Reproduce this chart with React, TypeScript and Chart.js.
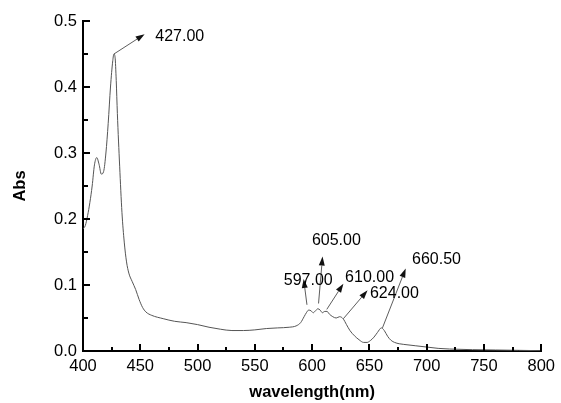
import React, { useEffect, useRef } from "react";
import { Chart, registerables } from "chart.js";

Chart.register(...registerables);

// Spectrum data (wavelength in nm, absorbance)
const wavelengths = [
  400, 402, 404, 406, 408, 410, 412, 414, 416, 418, 420, 422, 424, 426, 427, 428, 429, 430, 432, 434,
  436, 438, 440, 443, 446, 449, 452, 455, 460, 470, 480, 490, 500, 510, 520, 530, 540, 550, 560, 570,
  580, 586, 590, 593, 595, 597, 599, 601, 603, 605, 607, 609, 611, 613, 615, 618, 621, 624, 627, 630,
  633, 637, 641, 645, 648, 651, 654, 657, 660.5, 663, 666, 669, 672, 676, 680, 690, 700, 710, 720, 740,
  760, 780, 800,
];
const absorbance = [
  0.185, 0.19, 0.205, 0.225, 0.25, 0.282, 0.293, 0.283, 0.268, 0.272, 0.3, 0.345, 0.4, 0.44, 0.45, 0.445, 0.41, 0.36, 0.28, 0.21,
  0.165, 0.135, 0.118, 0.105, 0.093, 0.078, 0.066, 0.059, 0.054, 0.049, 0.045, 0.043, 0.04, 0.036, 0.033, 0.031, 0.031, 0.032, 0.034, 0.035,
  0.036, 0.038, 0.043, 0.052, 0.058, 0.062, 0.061, 0.058, 0.061, 0.064, 0.062, 0.058, 0.06, 0.06, 0.056, 0.052, 0.05, 0.052, 0.049, 0.04,
  0.031, 0.023, 0.017, 0.013, 0.013, 0.016, 0.021, 0.028, 0.035, 0.031, 0.022, 0.016, 0.013, 0.011, 0.01, 0.008, 0.006, 0.004, 0.003, 0.002,
  0.0015, 0.001, 0.0005,
];

// Peak annotations
const peakLabels = ["427.00", "597.00", "605.00", "610.00", "624.00", "660.50"];
// arrow tail (on the curve), in data units
const tailX = [427, 595.5, 605.6, 612.8, 627.3, 661.4];
const tailY = [0.45, 0.07, 0.072, 0.063, 0.049, 0.035];
// arrow head, in data units
const tipX = [453.8, 592.6, 609.1, 627.3, 648.4, 681.7];
const tipY = [0.48, 0.109, 0.143, 0.102, 0.092, 0.125];
// label anchor (left, middle), in data units
const labelX = [463.1, 575.3, 599.8, 628.8, 650.5, 687.2];
const labelY = [0.477, 0.106, 0.167, 0.111, 0.087, 0.139];

const X_MIN = 400;
const X_MAX = 800;
const X_MAJOR = 50;
const X_MINOR = 25;
const Y_MIN = 0;
const Y_MAX = 0.5;
const Y_MAJOR = 0.1;
const Y_MINOR = 0.05;

const FONT = "Arial, 'Liberation Sans', sans-serif";

const tickPlugin = {
  id: "innerTicks",
  afterDraw(chart: any) {
    const { ctx, chartArea, scales } = chart;
    const xs = scales.x;
    const ys = scales.y;
    ctx.save();
    ctx.strokeStyle = "#000";
    ctx.lineWidth = 2;
    const nx = Math.round((X_MAX - X_MIN) / X_MINOR);
    for (let i = 0; i <= nx; i++) {
      const v = X_MIN + i * X_MINOR;
      const major = i % Math.round(X_MAJOR / X_MINOR) === 0;
      const px = Math.round(xs.getPixelForValue(v));
      ctx.beginPath();
      ctx.moveTo(px, chartArea.bottom);
      ctx.lineTo(px, chartArea.bottom - (major ? 7 : 4));
      ctx.stroke();
    }
    const ny = Math.round((Y_MAX - Y_MIN) / Y_MINOR);
    for (let i = 0; i <= ny; i++) {
      const v = Y_MIN + i * Y_MINOR;
      const major = i % Math.round(Y_MAJOR / Y_MINOR) === 0;
      const py = Math.round(ys.getPixelForValue(v));
      ctx.beginPath();
      ctx.moveTo(chartArea.left, py);
      ctx.lineTo(chartArea.left + (major ? 7 : 5), py);
      ctx.stroke();
    }
    ctx.restore();
  },
};

const arrowPlugin = {
  id: "peakArrows",
  afterDatasetsDraw(chart: any) {
    const { ctx, scales } = chart;
    const xs = scales.x;
    const ys = scales.y;
    ctx.save();
    for (let i = 0; i < peakLabels.length; i++) {
      const x0 = xs.getPixelForValue(tailX[i]);
      const y0 = ys.getPixelForValue(tailY[i]);
      const x1 = xs.getPixelForValue(tipX[i]);
      const y1 = ys.getPixelForValue(tipY[i]);
      const ang = Math.atan2(y1 - y0, x1 - x0);
      const headLen = 9;
      const headW = 3;
      const bx = x1 - headLen * Math.cos(ang);
      const by = y1 - headLen * Math.sin(ang);
      ctx.strokeStyle = "#333";
      ctx.lineWidth = 0.8;
      ctx.beginPath();
      ctx.moveTo(x0, y0);
      ctx.lineTo(bx, by);
      ctx.stroke();
      ctx.fillStyle = "#111";
      ctx.beginPath();
      ctx.moveTo(x1, y1);
      ctx.lineTo(bx + headW * Math.sin(ang), by - headW * Math.cos(ang));
      ctx.lineTo(bx - headW * Math.sin(ang), by + headW * Math.cos(ang));
      ctx.closePath();
      ctx.fill();
    }
    ctx.fillStyle = "#000";
    ctx.font = `16px ${FONT}`;
    ctx.textAlign = "left";
    ctx.textBaseline = "middle";
    for (let i = 0; i < peakLabels.length; i++) {
      ctx.fillText(peakLabels[i], xs.getPixelForValue(labelX[i]), ys.getPixelForValue(labelY[i]));
    }
    ctx.restore();
  },
};

export default function App() {
  const canvasRef = useRef<HTMLCanvasElement | null>(null);

  useEffect(() => {
    document.body.style.margin = "0";
    const canvas = canvasRef.current;
    if (!canvas) return;
    const chart = new Chart(canvas, {
      type: "line",
      data: {
        datasets: [
          {
            data: wavelengths.map((w, i) => ({ x: w, y: absorbance[i] })),
            borderColor: "#555",
            borderWidth: 1,
            pointRadius: 0,
            fill: false,
            cubicInterpolationMode: "monotone",
          },
        ],
      },
      options: {
        responsive: false,
        animation: false,
        events: [],
        layout: { padding: { left: 0, right: 16, top: 21, bottom: 0 } },
        plugins: {
          legend: { display: false },
          tooltip: { enabled: false },
        },
        scales: {
          x: {
            type: "linear",
            min: X_MIN,
            max: X_MAX,
            grid: { display: false, drawTicks: false },
            border: { display: true, color: "#000", width: 2 },
            ticks: {
              stepSize: X_MAJOR,
              color: "#000",
              font: { family: FONT, size: 16.5 },
              padding: 6,
              maxRotation: 0,
              autoSkip: false,
            },
            title: {
              display: true,
              text: "wavelength(nm)",
              color: "#000",
              font: { family: FONT, size: 16.5, weight: "bold" },
              padding: { top: 0, bottom: 1 },
            },
            afterFit: (scale: any) => {
              scale.height = 52;
            },
          },
          y: {
            type: "linear",
            min: Y_MIN,
            max: Y_MAX,
            grid: { display: false, drawTicks: false },
            border: { display: true, color: "#000", width: 2 },
            ticks: {
              stepSize: Y_MAJOR,
              color: "#000",
              font: { family: FONT, size: 16.5 },
              padding: 6,
              callback: (v: any) => Number(v).toFixed(1),
            },
            title: {
              display: true,
              text: "Abs",
              color: "#000",
              font: { family: FONT, size: 16.5, weight: "bold" },
              padding: { top: 11, bottom: 0 },
            },
            afterFit: (scale: any) => {
              scale.width = 83;
            },
          },
        },
      },
      plugins: [tickPlugin, arrowPlugin],
    });
    return () => chart.destroy();
  }, []);

  return (
    <div style={{ position: "fixed", left: 0, top: 0, width: 561, height: 403, background: "#fff" }}>
      <canvas ref={canvasRef} width={561} height={403} style={{ width: 561, height: 403 }} />
    </div>
  );
}
